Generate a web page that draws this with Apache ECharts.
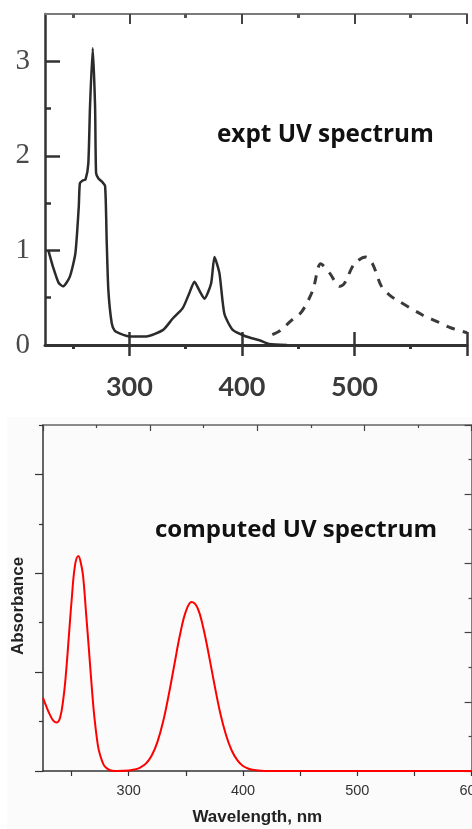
<!DOCTYPE html>
<html>
<head>
<meta charset="utf-8">
<script src="https://cdn.jsdelivr.net/npm/echarts@6/dist/echarts.min.js"></script>
<style>
  html, body { margin: 0; padding: 0; background: #fff; }
  #main { width: 472px; height: 829px; }
</style>
</head>
<body>
<div id="main"></div>
<script>
// experimental spectrum (scanned), solid part
const exptWavelength = [228, 232, 237, 241, 247, 252, 255, 256, 258.5, 261, 263.5, 265, 267.4, 269.5, 270.4, 272.5, 275.4, 278.4, 279.8, 281.3, 284.3, 287, 291.7, 300, 315, 330, 338.5, 347.4, 353.3, 357.8, 362, 366.7, 372.6, 375.6, 380, 384.4, 391.8, 403.7, 415.6, 424, 440];
const exptAbsorbance = [1.0, 0.83, 0.66, 0.62, 0.72, 0.97, 1.46, 1.71, 1.74, 1.75, 1.92, 2.52, 3.14, 2.52, 1.82, 1.76, 1.73, 1.68, 1.11, 0.58, 0.23, 0.15, 0.12, 0.09, 0.09, 0.16, 0.28, 0.39, 0.55, 0.67, 0.58, 0.49, 0.65, 0.93, 0.76, 0.33, 0.16, 0.09, 0.05, 0.01, 0];
// experimental spectrum, dashed visible band
const visWavelength = [427, 435, 443, 453, 463, 470, 478, 487, 491, 500, 510, 516, 524, 532, 540, 560, 573, 586, 600];
const visAbsorbance = [0.11, 0.16, 0.25, 0.35, 0.58, 0.86, 0.76, 0.62, 0.65, 0.86, 0.93, 0.86, 0.62, 0.52, 0.46, 0.32, 0.25, 0.18, 0.13];
// computed spectrum
const compWavelength = [225, 228, 231, 234, 237, 240, 243, 245, 248, 250, 253, 256, 258, 260, 263, 265, 268, 270, 273, 275, 278, 280, 283, 286, 290, 300, 305, 310, 315, 320, 325, 330, 335, 340, 345, 350, 355, 360, 365, 370, 375, 380, 385, 390, 395, 400, 405, 410, 415, 420, 450, 500, 550, 600];
const compAbsorbance = [1.48, 1.30, 1.14, 1.02, 0.98, 1.08, 1.50, 1.95, 2.84, 3.44, 4.16, 4.35, 4.22, 3.96, 3.10, 2.51, 1.60, 1.08, 0.52, 0.32, 0.13, 0.07, 0.02, 0.005, 0, 0.01, 0.03, 0.07, 0.15, 0.31, 0.58, 0.99, 1.54, 2.16, 2.77, 3.23, 3.42, 3.31, 2.92, 2.36, 1.75, 1.18, 0.74, 0.42, 0.22, 0.10, 0.045, 0.018, 0.007, 0, 0, 0, 0, 0];

// tick values
const xMinorTicks = [250, 350, 450, 550];
const xMajorTicks = [300, 400, 500, 600];
const xAllTicks = [250, 300, 350, 400, 450, 500, 550, 600];
const exptXLabels = [300, 400, 500];
const compXLabels = [300, 400, 500, 600];
const exptYLabels = [0, 1, 2, 3];
const exptYMinor = [0.5, 1.5, 2.5];
const compYMajor = [0, 2, 4, 6];
const compYMinor = [1, 3, 5, 7];

const pairs = (xs, ys) => xs.map((x, i) => [x, ys[i]]);

const chart = echarts.init(document.getElementById('main'));

const hidden = { show: false };
const scanLine = { lineStyle: { color: '#333', width: 3 } };

const option = {
  backgroundColor: '#fff',
  animation: false,
  grid: [
    { left: 45, top: 14, width: 422, height: 331, outerBoundsMode: 'none' },
    { left: 43, top: 425, width: 428.6, height: 346, outerBoundsMode: 'none' }
  ],
  xAxis: [
    // top panel: bottom axis with labels + outward major ticks
    {
      gridIndex: 0, type: 'value', min: 225, max: 600, position: 'bottom',
      axisLine: { onZero: false, ...scanLine },
      axisTick: { customValues: xMajorTicks, length: 11, lineStyle: { color: '#333', width: 2.5 } },
      axisLabel: {
        customValues: exptXLabels, margin: 29, fontSize: 27, fontWeight: 'bold',
        fontFamily: 'Lato', color: '#3a3a3a'
      },
      splitLine: hidden
    },
    // top panel: inward major ticks on bottom axis
    {
      gridIndex: 0, type: 'value', min: 225, max: 600, position: 'bottom',
      axisLine: { show: false, onZero: false },
      axisTick: { customValues: xMajorTicks, inside: true, length: 13, lineStyle: { color: '#333', width: 2.5 } },
      axisLabel: hidden, splitLine: hidden
    },
    // top panel: minor dots on bottom axis
    {
      gridIndex: 0, type: 'value', min: 225, max: 600, position: 'bottom',
      axisLine: { show: false, onZero: false },
      axisTick: { customValues: xMinorTicks, length: 4, lineStyle: { color: '#333', width: 3 } },
      axisLabel: hidden, splitLine: hidden
    },
    // top panel: top frame with inward ticks
    {
      gridIndex: 0, type: 'value', min: 225, max: 600, position: 'top',
      axisLine: { onZero: false, lineStyle: { color: '#7a7a7a', width: 2 } },
      axisTick: { customValues: xMajorTicks, inside: true, length: 10, lineStyle: { color: '#444', width: 2 } },
      axisLabel: hidden, splitLine: hidden
    },
    {
      gridIndex: 0, type: 'value', min: 225, max: 600, position: 'top',
      axisLine: { show: false, onZero: false },
      axisTick: { customValues: xMinorTicks, inside: true, length: 4, lineStyle: { color: '#555', width: 3 } },
      axisLabel: hidden, splitLine: hidden
    },
    // bottom panel: wavelength axis
    {
      gridIndex: 1, type: 'value', min: 225, max: 600, position: 'bottom',
      name: 'Wavelength, nm', nameLocation: 'middle', nameGap: 38,
      nameTextStyle: { fontFamily: 'Liberation Sans', fontWeight: 'bold', fontSize: 17, color: '#222' },
      axisLine: { onZero: false, lineStyle: { color: '#333', width: 1.5 } },
      axisTick: { customValues: xAllTicks, length: 5, lineStyle: { color: '#333', width: 1.2 } },
      axisLabel: { customValues: compXLabels, margin: 12, fontSize: 14.5, fontFamily: 'Liberation Sans', color: '#333' },
      splitLine: hidden
    },
    // bottom panel: top frame axis (own scale)
    {
      gridIndex: 1, type: 'value', min: 0, max: 8, interval: 2, position: 'top',
      axisLine: { onZero: false, lineStyle: { color: '#666', width: 1.5 } },
      axisTick: { inside: true, length: 6, lineStyle: { color: '#444', width: 1.2 } },
      minorTick: { show: true, splitNumber: 2, length: 3, lineStyle: { color: '#444', width: 1.2 } },
      axisLabel: hidden, splitLine: hidden, minorSplitLine: hidden
    }
  ],
  yAxis: [
    {
      gridIndex: 0, type: 'value', min: 0, max: 3.5, position: 'left',
      axisLine: { onZero: false, lineStyle: { color: '#333', width: 2.5 } },
      axisTick: { customValues: exptYLabels, inside: true, length: 15, lineStyle: { color: '#333', width: 2.5 } },
      axisLabel: {
        customValues: exptYLabels, margin: 15, fontSize: 29,
        fontFamily: 'Liberation Serif', color: '#4a4a4a'
      },
      splitLine: hidden
    },
    {
      gridIndex: 0, type: 'value', min: 0, max: 3.5, position: 'left',
      axisLine: { show: false, onZero: false },
      axisTick: { customValues: exptYMinor, inside: true, length: 6, lineStyle: { color: '#333', width: 2.5 } },
      axisLabel: hidden, splitLine: hidden
    },
    // bottom panel
    {
      gridIndex: 1, type: 'value', min: 0, max: 7, position: 'left',
      name: 'Absorbance', nameLocation: 'middle', nameGap: 16,
      nameTextStyle: { fontFamily: 'Liberation Sans', fontWeight: 'bold', fontSize: 17, color: '#222', padding: [0, 16, 0, 0] },
      axisLine: { onZero: false, lineStyle: { color: '#333', width: 1.5 } },
      axisTick: { customValues: compYMajor, length: 8, lineStyle: { color: '#333', width: 1.2 } },
      axisLabel: hidden, splitLine: hidden
    },
    {
      gridIndex: 1, type: 'value', min: 0, max: 7, position: 'left',
      axisLine: { show: false, onZero: false },
      axisTick: { customValues: compYMinor, length: 4, lineStyle: { color: '#333', width: 1.2 } },
      axisLabel: hidden, splitLine: hidden
    },
    {
      gridIndex: 1, type: 'value', min: 0, max: 10, interval: 2, position: 'right',
      axisLine: { onZero: false, lineStyle: { color: '#555', width: 1.5 } },
      axisTick: { inside: true, length: 7, lineStyle: { color: '#444', width: 1.2 } },
      minorTick: { show: true, splitNumber: 2, length: 3, lineStyle: { color: '#444', width: 1.2 } },
      axisLabel: hidden, splitLine: hidden, minorSplitLine: hidden
    }
  ],
  graphic: [
    {
      type: 'rect', z: -10, silent: true,
      shape: { x: 7, y: 417, width: 465, height: 412 },
      style: { fill: '#fbfbfb' }
    },
    {
      type: 'text', left: 217, top: 123, z: 100,
      style: { text: 'expt UV spectrum', fontFamily: 'Open Sans', fontWeight: 'bold', fontSize: 24.3, fill: '#111' }
    },
    {
      type: 'text', left: 155, top: 518, z: 100,
      style: { text: 'computed UV spectrum', fontFamily: 'Open Sans', fontWeight: 'bold', fontSize: 24, fill: '#111' }
    }
  ],
  series: [
    {
      name: 'expt', type: 'line', xAxisIndex: 0, yAxisIndex: 0,
      data: pairs(exptWavelength, exptAbsorbance),
      showSymbol: false, smooth: 0.2,
      lineStyle: { color: '#2b2b2b', width: 2.5 }
    },
    {
      name: 'expt vis', type: 'line', xAxisIndex: 0, yAxisIndex: 0,
      data: pairs(visWavelength, visAbsorbance),
      showSymbol: false, smooth: 0.3,
      lineStyle: { color: '#3a3a3a', width: 3, type: [9, 8] }
    },
    {
      name: 'computed', type: 'line', xAxisIndex: 5, yAxisIndex: 2,
      data: pairs(compWavelength, compAbsorbance),
      showSymbol: false, smooth: 0.4,
      lineStyle: { color: '#ff0000', width: 2 }
    }
  ]
};

chart.setOption(option);
</script>
</body>
</html>
